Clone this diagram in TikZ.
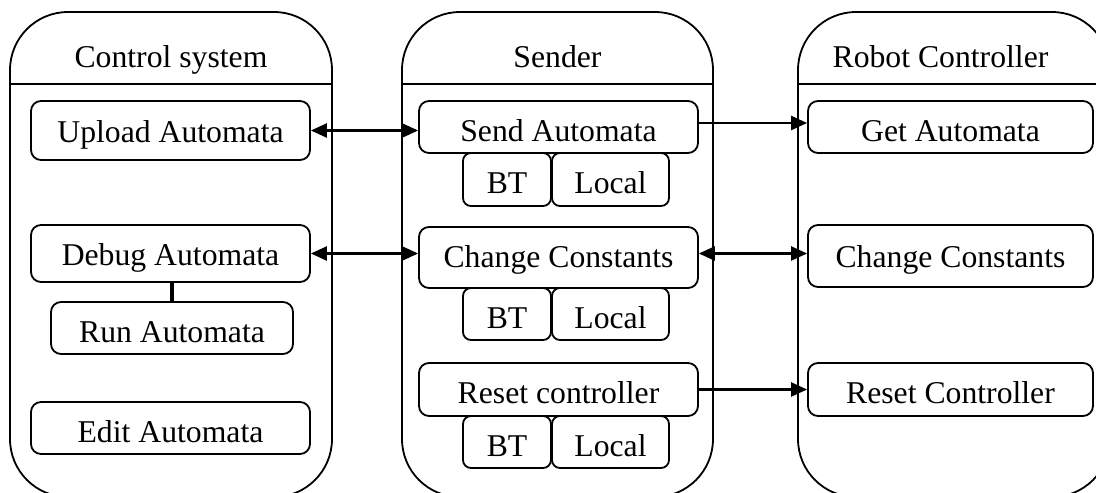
\documentclass[tikz,border=0pt]{standalone}
\usepackage{fontspec}
\setmainfont{Liberation Serif}
\usetikzlibrary{arrows.meta}
\begin{document}
\begin{tikzpicture}[x=1pt,y=-1pt,
  txt/.style={font=\fontsize{31.7pt}{38pt}\selectfont},
  lane/.style={draw,line width=1.8pt,rounded corners=58pt,inner sep=0pt},
  task/.style={draw,line width=1.8pt,rounded corners=10pt,inner sep=0pt,txt,
    text depth=0pt,text height=28pt},
  opt/.style={task,rounded corners=8pt},
  drop/.style={text height=#1},
  arr/.style={line width=2.4pt,-{Triangle[length=16pt,width=14pt]}},
  darr/.style={line width=2.4pt,{Triangle[length=16pt,width=14pt]}-{Triangle[length=16pt,width=14pt]}},
  link/.style={line width=4pt}]
\useasboundingbox (0,0) rectangle (1096,493);
\clip (0,0) rectangle (1096,493);

% swimlanes
\node[lane,minimum width=322pt,minimum height=485pt] (laneA) at (171,254.5) {};
\node[lane,minimum width=311pt,minimum height=485pt] (laneB) at (557.5,254.5) {};
\node[lane,minimum width=312pt,minimum height=485pt] (laneC) at (954,254.5) {};
\foreach \l in {laneA,laneB,laneC}
  \draw[line width=1.8pt] ([yshift=-73pt]\l.north west) -- ([yshift=-73pt]\l.north east);

\node[txt,anchor=base] (hA) at (171,67) {Control system};
\node[txt,anchor=base] (hB) at (557.5,67) {Sender};
\node[txt,anchor=base] (hC) at (940.5,67) {Robot Controller};

% control system
\node[task,drop=23pt,minimum width=279pt,minimum height=59pt] (upload) at (170.5,130.5) {Upload Automata};
\node[task,drop=23pt,minimum width=279pt,minimum height=57pt] (debug) at (170.5,253.5) {Debug Automata};
\node[task,minimum width=242pt,minimum height=52pt] (run) at (172,328) {Run Automata};
\node[task,minimum width=279pt,minimum height=52pt] (edit) at (170.5,428) {Edit Automata};
\draw[link] (debug.south -| run.north) -- (run.north);

% sender
\node[task,minimum width=279pt,minimum height=52pt] (send) at (558.5,127) {Send Automata};
\node[opt,minimum width=88pt,minimum height=53pt] (bt1) at (507,179.5) {BT};
\node[opt,minimum width=117pt,minimum height=53pt] (loc1) at (610.5,179.5) {Local};
\node[task,drop=19pt,minimum width=279pt,minimum height=61pt] (chg) at (558.5,257.5) {Change Constants};
\node[opt,minimum width=88pt,minimum height=52pt] (bt2) at (507,314) {BT};
\node[opt,minimum width=117pt,minimum height=52pt] (loc2) at (610.5,314) {Local};
\node[task,minimum width=279pt,minimum height=53pt] (reset) at (558.5,389.5) {Reset controller};
\node[opt,minimum width=88pt,minimum height=52pt] (bt3) at (507,442) {BT};
\node[opt,minimum width=117pt,minimum height=52pt] (loc3) at (610.5,442) {Local};

% robot controller
\node[task,minimum width=285pt,minimum height=52pt] (get) at (950.5,127) {Get Automata};
\node[task,drop=22pt,minimum width=285pt,minimum height=62pt] (rchg) at (950.5,256) {Change Constants};
\node[task,minimum width=285pt,minimum height=53pt] (rreset) at (950.5,389.5) {Reset Controller};

% messages
\draw[darr] (upload.east) -- (upload.east -| send.west);
\draw[darr] (debug.east) -- (debug.east -| chg.west);
\draw[arr] ([yshift=4pt]send.east) -- ([yshift=4pt]send.east -| get.west);
\draw[darr] ([yshift=4pt]chg.east) -- ([yshift=4pt]chg.east -| rchg.west);
\draw[arr] (reset.east) -- (reset.east -| rreset.west);
\end{tikzpicture}
\end{document}
